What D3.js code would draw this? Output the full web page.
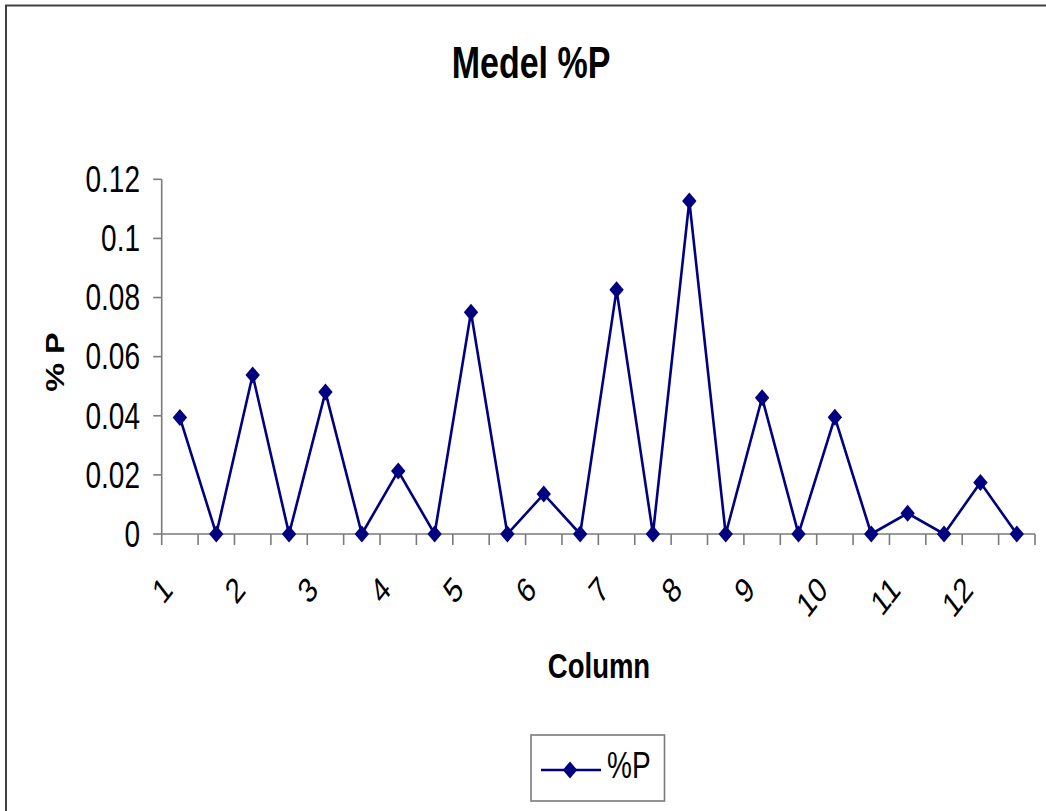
<!DOCTYPE html>
<html>
<head>
<meta charset="utf-8">
<script src="https://cdn.jsdelivr.net/npm/d3@7"></script>
<style>
  html, body { margin: 0; padding: 0; background: #fff; }
  svg { display: block; font-family: "Liberation Sans", Arial, sans-serif; }
</style>
</head>
<body>
<svg id="chart" width="1046" height="811"></svg>
<script>
// Category slots along the x axis: one label every second slot
const categories = ["1", "", "2", "", "3", "", "4", "", "5", "", "6", "",
                    "7", "", "8", "", "9", "", "10", "", "11", "", "12", ""];
const seriesName = "%P";
const values = [0.0394, 0, 0.0538, 0, 0.0480, 0, 0.0213, 0, 0.0750, 0, 0.0135, 0,
                0.0826, 0, 0.1127, 0, 0.0461, 0, 0.0395, 0, 0.0070, 0, 0.0174, 0];
const yTicks = [0, 0.02, 0.04, 0.06, 0.08, 0.1, 0.12];
const yTickLabels = ["0", "0.02", "0.04", "0.06", "0.08", "0.1", "0.12"];
const chartTitle = "Medel %P";
const xTitle = "Column";
const yTitle = "% P";

const svg = d3.select("#chart");
const SY = 1.3;             // vertical stretch applied to all lettering
const navy = "#000080";
const axisGrey = "#7a7a7a";

// outer chart frame
svg.append("rect")
  .attr("x", 6).attr("y", 5.5).attr("width", 1100).attr("height", 900)
  .attr("fill", "none").attr("stroke", "#404040").attr("stroke-width", 2);

const x = d3.scaleBand().domain(d3.range(categories.length)).range([161.7, 1035]);
const y = d3.scaleLinear().domain([0, 0.12]).range([534, 179.3]);
const cx = i => x(i) + x.bandwidth() / 2;

function label(px, py, text, opts) {
  const g = svg.append("g")
    .attr("transform", `translate(${px},${py}) scale(1,${SY}) rotate(${opts.rotate || 0})`);
  return g.append("text")
    .attr("text-anchor", opts.anchor || "middle")
    .attr("dy", opts.dy || 0)
    .attr("font-size", opts.size)
    .attr("font-weight", opts.weight || "normal")
    .attr("fill", "#000")
    .text(text);
}

// y axis
const axisG = svg.append("g").attr("stroke", axisGrey).attr("stroke-width", 1.6);
axisG.append("line").attr("x1", x.range()[0]).attr("x2", x.range()[0])
  .attr("y1", y(0.12)).attr("y2", y(0));
yTicks.forEach(t => {
  axisG.append("line").attr("x1", x.range()[0] - 8.5).attr("x2", x.range()[0])
    .attr("y1", y(t)).attr("y2", y(t));
});
yTicks.forEach((t, i) => {
  label(140, y(t), yTickLabels[i], { anchor: "end", size: 28, dy: "0.35em" });
});

// x axis
axisG.append("line").attr("x1", x.range()[0]).attr("x2", x.range()[1])
  .attr("y1", y(0)).attr("y2", y(0));
d3.range(categories.length + 1).forEach(i => {
  const px = i < categories.length ? x(i) : x.range()[1];
  axisG.append("line").attr("x1", px).attr("x2", px)
    .attr("y1", y(0)).attr("y2", y(0) + 11);
});
categories.forEach((c, i) => {
  if (!c) return;
  label(cx(i) - 12.5, 583, c, { anchor: "end", size: 27, dy: "0.35em", rotate: -45 });
});

// titles
label(531, 77.5, chartTitle, { size: 34, weight: "bold" });
label(599, 678, xTitle, { size: 27.5, weight: "bold" });
label(63.5, 362, yTitle, { size: 25, weight: "bold", rotate: -90 });

// series line and diamond markers
const line = d3.line().x((d, i) => cx(i)).y(d => y(d));
svg.append("path").datum(values)
  .attr("d", line).attr("fill", "none")
  .attr("stroke", navy).attr("stroke-width", 2.6).attr("stroke-linejoin", "miter");

const diamond = "M0,-8.5L7.2,0L0,8.5L-7.2,0Z";
svg.append("g").selectAll("path").data(values).join("path")
  .attr("transform", (d, i) => `translate(${cx(i)},${y(d)})`)
  .attr("d", diamond).attr("fill", navy);

// legend
const lg = svg.append("g");
lg.append("rect").attr("x", 531).attr("y", 735).attr("width", 133.5).attr("height", 66)
  .attr("fill", "#fff").attr("stroke", axisGrey).attr("stroke-width", 1.6);
lg.append("line").attr("x1", 541).attr("x2", 601).attr("y1", 770).attr("y2", 770)
  .attr("stroke", navy).attr("stroke-width", 2.6);
lg.append("path").attr("transform", "translate(570,770)").attr("d", diamond).attr("fill", navy);
label(607, 778, seriesName, { anchor: "start", size: 28 });
</script>
</body>
</html>
